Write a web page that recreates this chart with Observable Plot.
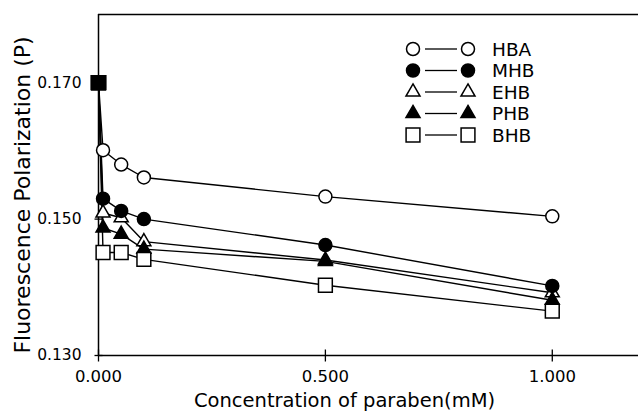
<!DOCTYPE html>
<html><head><meta charset="utf-8">
<script src="https://cdn.jsdelivr.net/npm/d3@7"></script>
<script src="https://cdn.jsdelivr.net/npm/@observablehq/plot@0.6"></script>
<style>html,body{margin:0;padding:0;background:#fff} svg{display:block}</style>
</head><body><div id="chart"></div>
<script>
// ---- data ----
const concentrations = [0, 0.01, 0.05, 0.1, 0.5, 1.0];
const seriesNames = ["HBA", "MHB", "EHB", "PHB", "BHB"];
const HBA = [0.170, 0.1601, 0.1580, 0.1561, 0.1533, 0.1504];
const MHB = [0.170, 0.1530, 0.1512, 0.1500, 0.1462, 0.1402];
const EHB = [0.170, 0.1509, 0.1502, 0.1467, 0.1440, 0.1392];
const PHB = [0.170, 0.1487, 0.1478, 0.1456, 0.1438, 0.1381];
const BHB = [0.170, 0.1451, 0.1451, 0.1441, 0.1403, 0.1365];
const xTicks = [0, 0.5, 1.0];
const yTicks = [0.130, 0.150, 0.170];
const xDomain = [0, 1.19];
const yDomain = [0.130, 0.180];
const xLabel = "Concentration of paraben(mM)";
const yLabel = "Fluorescence Polarization (P)";

const values = {HBA, MHB, EHB, PHB, BHB};
const styles = {
  HBA: {symbol: "circle", fill: "white", r: 6.5},
  MHB: {symbol: "circle", fill: "black", r: 6.5},
  EHB: {symbol: "triangle", fill: "white", r: 5.2},
  PHB: {symbol: "triangle", fill: "black", r: 5.2},
  BHB: {symbol: "square", fill: "white", r: 7.8}
};
const drawOrder = ["HBA", "EHB", "MHB", "PHB", "BHB"];

const table = seriesNames.flatMap(name =>
  concentrations.map((c, i) => ({series: name, c, p: values[name][i]})));

const FONT = "DejaVu Sans";

// crossing tick symbols
const vTick = {draw(ctx, size) { const h = Math.sqrt(size / Math.PI); ctx.moveTo(0, -h); ctx.lineTo(0, h); }};
const hTick = {draw(ctx, size) { const h = Math.sqrt(size / Math.PI); ctx.moveTo(-h, 0); ctx.lineTo(h, 0); }};

const d3Symbols = {circle: d3.symbolCircle, triangle: d3.symbolTriangle, square: d3.symbolSquare};

function legendMark(index, scales, vals, dims) {
  const g = d3.create("svg:g").attr("font-family", FONT).attr("font-size", 18.5).attr("text-anchor", "start");
  const x0 = dims.marginLeft + 315, x1 = dims.marginLeft + 370, xt = dims.marginLeft + 394;
  const y0 = dims.marginTop + 35, step = 21.5;
  seriesNames.forEach((name, i) => {
    const y = y0 + i * step;
    const s = styles[name];
    g.append("line").attr("x1", x0 + 12).attr("x2", x1 - 11).attr("y1", y).attr("y2", y)
      .attr("stroke", "black").attr("stroke-width", 1.3);
    const d = d3.symbol(d3Symbols[s.symbol], s.r * s.r * Math.PI)();
    for (const x of [x0, x1]) {
      g.append("path").attr("d", d).attr("transform", `translate(${x},${y})`)
        .attr("fill", s.fill).attr("stroke", "black").attr("stroke-width", 1.5);
    }
    g.append("text").attr("x", xt).attr("y", y).attr("dy", "0.36em")
      .attr("text-anchor", "start").attr("fill", "black").text(name);
  });
  return g.node();
}

const marks = [
  Plot.ruleY([yDomain[1]], {stroke: "black", strokeWidth: 1.5}),
  Plot.ruleY([yDomain[0]], {stroke: "black", strokeWidth: 1.5}),
  Plot.ruleX([xDomain[0]], {stroke: "black", strokeWidth: 1.5}),
  Plot.dot(xTicks, {x: d => d, y: yDomain[0], symbol: vTick, r: 6, stroke: "black", strokeWidth: 1.3, fill: "none"}),
  Plot.dot(yTicks, {x: xDomain[0], y: d => d, symbol: hTick, r: 4, stroke: "black", strokeWidth: 1.3, fill: "none"}),
  Plot.axisX({ticks: xTicks, tickSize: 0, tickPadding: 15, tickFormat: d3.format(".3f"), fontSize: 16.5, label: null}),
  Plot.axisY({ticks: yTicks, tickSize: 0, tickPadding: 17, tickFormat: d3.format(".3f"), fontSize: 15.5, label: null}),
  Plot.line(table, {x: "c", y: "p", z: "series", stroke: "black", strokeWidth: 1.4}),
  ...drawOrder.map(name => Plot.dot(table.filter(d => d.series === name && d.c > 0), {
    x: "c", y: "p", symbol: styles[name].symbol, r: styles[name].r,
    fill: styles[name].fill, stroke: "black", strokeWidth: 1.5
  })),
  Plot.dot(table.filter(d => d.c === 0), {x: "c", y: "p", symbol: "square", r: 7.8, fill: "black", stroke: "black"}),
  Plot.text([xLabel], {text: d => d, frameAnchor: "bottom", textAnchor: "middle", lineAnchor: "middle", dx: -24, dy: 45, fontSize: 19.5, fill: "black"}),
  Plot.text([yLabel], {text: d => d, frameAnchor: "left", textAnchor: "middle", lineAnchor: "middle", rotate: -90, dx: -76, dy: 10, fontSize: 22, fill: "black"}),
  legendMark
];

const chart = Plot.plot({
  width: 638,
  height: 411,
  marginLeft: 98,
  marginRight: 0,
  marginTop: 14,
  marginBottom: 56,
  x: {domain: xDomain},
  y: {domain: yDomain},
  style: {fontFamily: FONT, color: "black", background: "white", overflow: "visible"},
  marks
});
document.getElementById("chart").appendChild(chart);
</script>
</body></html>
